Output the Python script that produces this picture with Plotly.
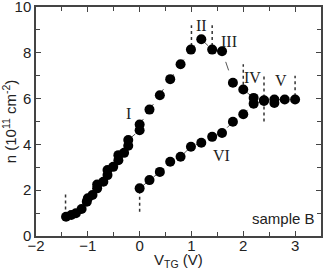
import plotly.graph_objects as go

# Branch I -> V (sweep up then down)
v_main = [-1.42, -1.32, -1.23, -1.12, -1.02, -1.0, -0.91, -0.82, -0.82, -0.70, -0.62, -0.62,
          -0.51, -0.41, -0.41, -0.30, -0.22, -0.22, 0.0, 0.0, 0.19, 0.39, 0.59, 0.79, 0.99,
          1.19, 1.40, 1.59, 1.80, 2.0, 2.2, 2.4, 2.6, 2.8, 3.0]
n_main = [0.84, 0.92, 0.99, 1.18, 1.50, 1.65, 1.79, 2.08, 2.25, 2.37, 2.66, 2.88,
          3.02, 3.31, 3.53, 3.63, 3.94, 4.19, 4.62, 4.87, 5.52, 6.15, 6.85, 7.50, 8.14,
          8.59, 8.14, 8.07, 6.69, 6.40, 6.03, 5.93, 5.96, 5.96, 5.96]

# Branch VI
v_six = [0.0, 0.19, 0.39, 0.59, 0.79, 0.99, 1.19, 1.40, 1.59, 1.80, 2.0, 2.2, 2.4, 2.6]
n_six = [2.08, 2.44, 2.80, 3.24, 3.46, 3.90, 4.07, 4.33, 4.50, 4.99, 5.32, 5.78, 5.90, 5.81]

# Region boundary markers (dotted vertical segments)
bound_v = [-1.43, 0.0, 1.0, 1.4, 2.0, 2.4, 3.0]
bound_lo = [0.9, 1.06, 8.3, 8.3, 6.6, 5.0, 6.1]
bound_hi = [1.86, 2.0, 9.2, 9.2, 7.5, 7.0, 7.0]

# Region labels
lab_text = ["I", "II", "III", "IV", "V", "VI"]
lab_v = [-0.22, 1.2, 1.73, 2.18, 2.72, 1.58]
lab_n = [5.35, 9.2, 8.5, 6.9, 6.8, 3.53]

fig = go.Figure()
for bv, lo, hi in zip(bound_v, bound_lo, bound_hi):
    fig.add_trace(go.Scatter(x=[bv, bv], y=[lo, hi], mode="lines",
                             line=dict(color="#333333", width=1.5, dash="dot"),
                             showlegend=False, hoverinfo="skip"))
fig.add_trace(go.Scatter(x=v_main, y=n_main, mode="lines+markers",
                         line=dict(color="#555555", width=1, dash="dash"),
                         marker=dict(color="black", size=10), showlegend=False))
fig.add_trace(go.Scatter(x=v_six, y=n_six, mode="lines+markers",
                         line=dict(color="#555555", width=1, dash="dash"),
                         marker=dict(color="black", size=10), showlegend=False))

for t, x, y in zip(lab_text, lab_v, lab_n):
    fig.add_annotation(x=x, y=y, text=t, showarrow=False,
                       font=dict(family="Liberation Serif", size=16, color="#222222"))

fig.add_annotation(xref="paper", yref="paper", x=0.985, y=0.03, xanchor="right", yanchor="bottom",
                   text="sample B", showarrow=False,
                   font=dict(family="Liberation Sans", size=15, color="#222222"))

# x-axis title placed just below the tick labels
fig.add_annotation(xref="paper", yref="paper", x=0.5, y=0, yshift=-36, xanchor="center",
                   yanchor="bottom", text="V<sub>TG</sub> (V)", showarrow=False,
                   font=dict(family="Liberation Sans", size=15, color="#222222"))

axis_common = dict(showline=True, linecolor="#444444", linewidth=1.5, mirror="ticks",
                   ticks="inside", ticklen=5, tickcolor="#444444", showgrid=False, zeroline=False,
                   automargin=False, ticklabeloverflow="allow",
                   tickfont=dict(family="Liberation Sans", size=15, color="#222222"))

fig.update_layout(
    width=323, height=272,
    margin=dict(l=36, r=2, t=7, b=36),
    paper_bgcolor="white", plot_bgcolor="white",
    xaxis=dict(range=[-2, 3.5], dtick=1, tick0=0, ticklabelstandoff=-5,
               minor=dict(dtick=0.5, ticks="inside", ticklen=4, tickcolor="#444444"),
               **axis_common),
    yaxis=dict(range=[0, 10], dtick=2, tick0=0,
               minor=dict(dtick=1, ticks="inside", ticklen=4, tickcolor="#444444"),
               title=dict(text="n (10<sup>11</sup> cm<sup>-2</sup>)", standoff=4,
                          font=dict(family="Liberation Sans", size=15, color="#222222")),
               **axis_common),
)

fig.write_html("out.html", config={"displayModeBar": False},
               post_script="document.body.style.margin='0';document.body.style.overflow='hidden';")
